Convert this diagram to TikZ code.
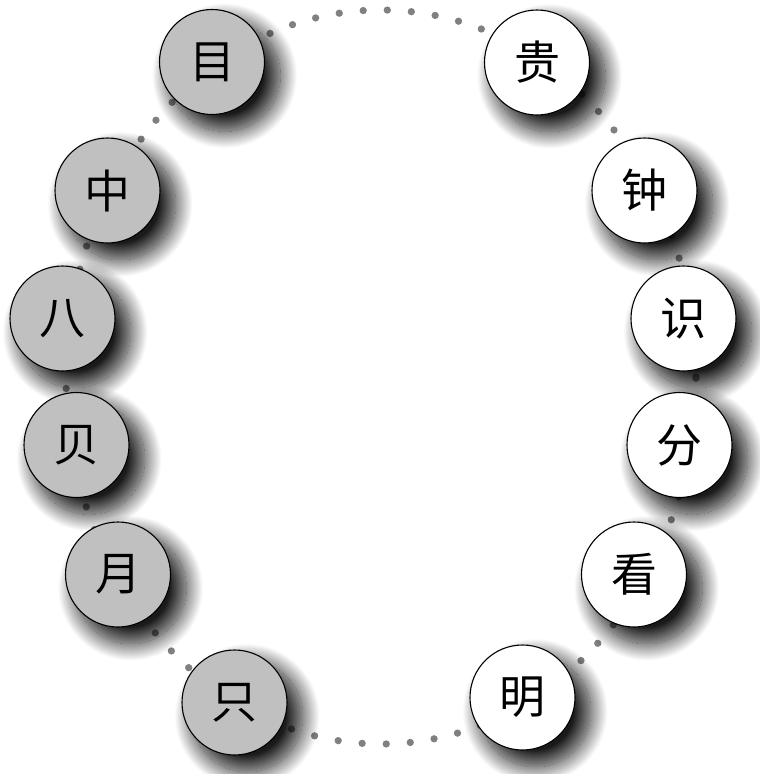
\documentclass[tikz,border=0pt]{standalone}
\usepackage{fontspec}
\usepackage{pdfrender}
\newfontfamily\cjk{Noto Sans CJK SC}
\usetikzlibrary{shadows.blur}
\definecolor{nodegray}{HTML}{C0C0C0}
\definecolor{dotgray}{HTML}{808080}
\tikzset{
  bubble/.style={circle, draw=black, line width=1.1pt, minimum size=105pt, inner sep=0pt,
    blur shadow={shadow xshift=12pt, shadow yshift=-13pt, shadow scale=1.06, shadow blur radius=16pt,
      shadow blur steps=30, shadow opacity=90}},
  graybubble/.style={bubble, fill=nodegray},
  whitebubble/.style={bubble, fill=white},
  glyph/.style={font=\cjk\fontsize{46}{46}\selectfont, inner sep=0pt},
  dotpath/.style={draw=dotgray, line width=7.3pt, line cap=round, dash pattern=on 0pt off 24.1pt}
}
\newcommand\halonode[3]{%
  \node[graybubble] (#1) at (#2) {};
  \node[glyph, text=white] (#1-h) at (#1.center)
    {\textpdfrender{TextRenderingMode=FillStroke, LineWidth=3.6pt, StrokeColor=white, FillColor=white}{#3}};
  \node[glyph, text=black] (#1-t) at (#1.center) {#3};
}
\newcommand\plainnode[3]{%
  \node[whitebubble] (#1) at (#2) {};
  \node[glyph, text=black] (#1-t) at (#1.center) {#3};
}
\begin{document}
\begin{tikzpicture}[x=1pt,y=-1pt]
\useasboundingbox (0,0) rectangle (760,774);
\coordinate (ctr) at (381,377);
\draw[dotpath] (ctr) ellipse [x radius=315pt, y radius=367pt];
\halonode{mu}{212,62}{目}
\plainnode{gui}{537,62.5}{贵}
\halonode{zhong}{107.5,190.5}{中}
\plainnode{zhongb}{644.5,190.5}{钟}
\halonode{ba}{62.5,318.5}{八}
\plainnode{shi}{683.5,318.5}{识}
\halonode{bei}{76.5,445}{贝}
\plainnode{fen}{679.5,445}{分}
\halonode{yue}{118,574.5}{月}
\plainnode{kan}{634,574.5}{看}
\halonode{zhi}{234.5,702.5}{只}
\plainnode{ming}{522.5,697.5}{明}
\end{tikzpicture}
\end{document}
